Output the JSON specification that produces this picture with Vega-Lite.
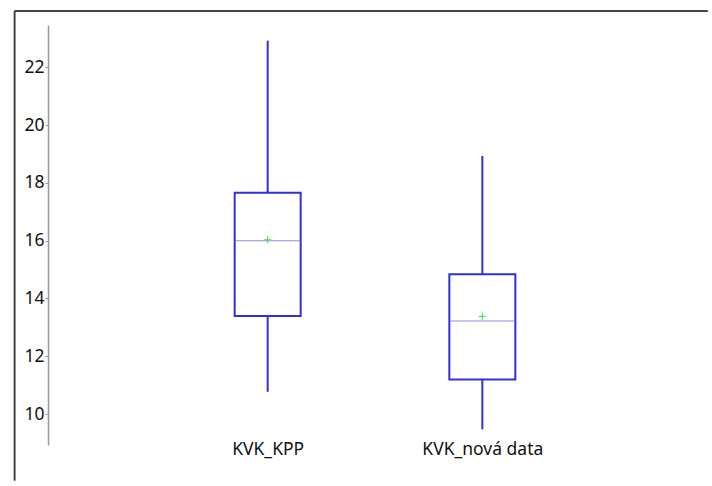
{
  "$schema": "https://vega.github.io/schema/vega-lite/v6.json",
  "autosize": {"type": "none"},
  "padding": {"left": 48, "top": 25, "right": 10, "bottom": 36},
  "width": 654,
  "height": 420,
  "background": "white",
  "config": {"view": {"stroke": null}, "font": "Noto Sans"},
  "data": {"values": [
    {"group": "KVK_KPP", "pos": 1, "min": 10.77, "q1": 13.39, "median": 16.0, "q3": 17.66, "max": 22.92, "mean": 16.03},
    {"group": "KVK_nová data", "pos": 2, "min": 9.47, "q1": 11.2, "median": 13.22, "q3": 14.84, "max": 18.93, "mean": 13.38}
  ]},
  "layer": [
    {
      "mark": {"type": "rule", "stroke": "#3c3c3c", "strokeWidth": 1.5, "clip": false},
      "encoding": {
        "x": {"datum": -0.179, "type": "quantitative"},
        "x2": {"datum": 3.05},
        "y": {"datum": 23.944, "type": "quantitative"}
      }
    },
    {
      "mark": {"type": "rule", "stroke": "#3c3c3c", "strokeWidth": 1.5, "clip": false},
      "encoding": {
        "x": {"datum": -0.179, "type": "quantitative"},
        "y": {"datum": 23.944, "type": "quantitative"},
        "y2": {"datum": 7.7}
      }
    },
    {
      "mark": {"type": "rule", "color": "#2f2fdc", "strokeWidth": 2},
      "encoding": {
        "x": {"field": "pos", "type": "quantitative", "scale": {"domain": [0, 3], "nice": false, "zero": false},
          "axis": {"values": [1, 2], "labelExpr": "datum.value == 1 ? 'KVK_KPP' : 'KVK_nová data'", "domain": false, "ticks": false, "grid": false, "labelFontSize": 17.5, "labelColor": "#111", "labelPadding": -5, "title": null, "labelBaseline": "top"}},
        "y": {"field": "q3", "type": "quantitative", "scale": {"domain": [8.93, 23.46], "nice": false, "zero": false},
          "axis": {"values": [10, 12, 14, 16, 18, 20, 22], "grid": false, "domainColor": "#999", "domainWidth": 1.5, "tickColor": "#999", "tickSize": 3, "labelFontSize": 17.5, "labelColor": "#111", "labelPadding": 1, "title": null}},
        "y2": {"field": "max"}
      }
    },
    {
      "mark": {"type": "rule", "color": "#2f2fdc", "strokeWidth": 2},
      "encoding": {
        "x": {"field": "pos", "type": "quantitative"},
        "y": {"field": "min", "type": "quantitative"},
        "y2": {"field": "q1"}
      }
    },
    {
      "mark": {"type": "bar", "size": 66, "fill": "white", "stroke": "#2f2fdc", "strokeWidth": 2, "orient": "vertical"},
      "encoding": {
        "x": {"field": "pos", "type": "quantitative"},
        "y": {"field": "q1", "type": "quantitative"},
        "y2": {"field": "q3"}
      }
    },
    {
      "mark": {"type": "tick", "orient": "horizontal", "size": 66, "thickness": 1, "color": "#5c5cdc"},
      "encoding": {
        "x": {"field": "pos", "type": "quantitative"},
        "y": {"field": "median", "type": "quantitative"}
      }
    },
    {
      "mark": {"type": "point", "shape": "M-1,0H1M0,-1V1", "size": 49, "filled": false, "stroke": "#3ddc3d", "strokeWidth": 1, "opacity": 1},
      "encoding": {
        "x": {"field": "pos", "type": "quantitative"},
        "y": {"field": "mean", "type": "quantitative"}
      }
    }
  ]
}
